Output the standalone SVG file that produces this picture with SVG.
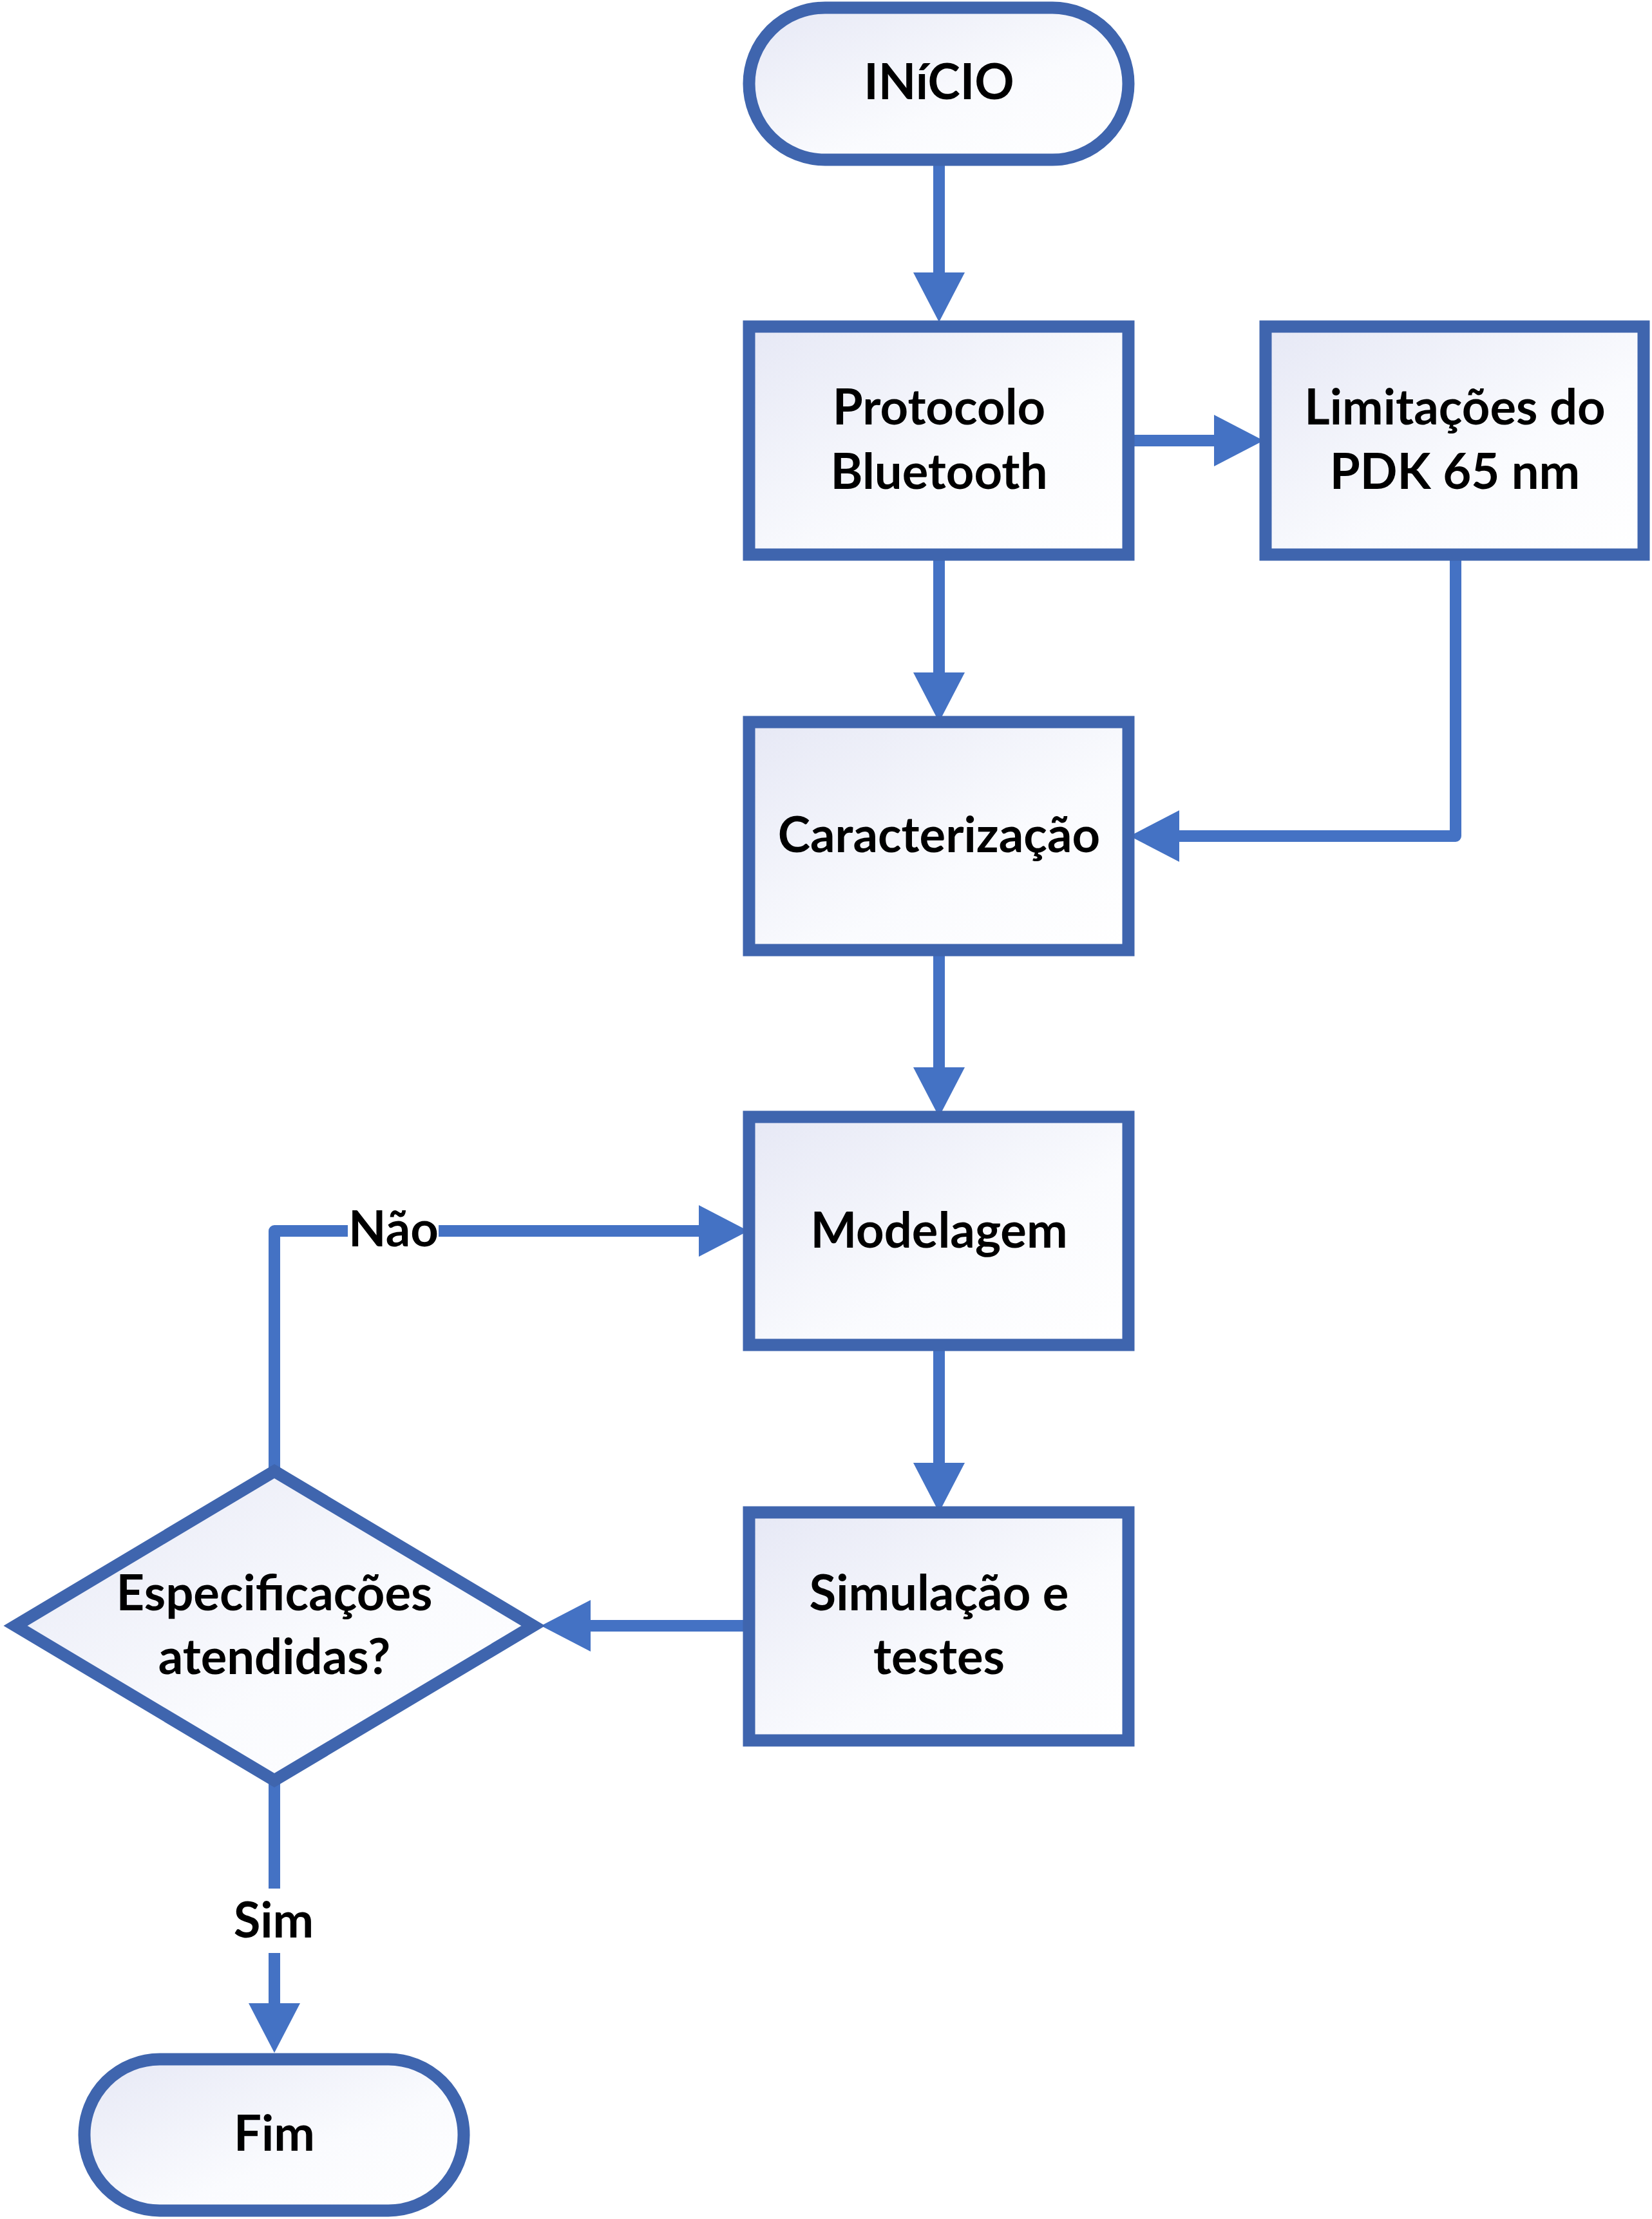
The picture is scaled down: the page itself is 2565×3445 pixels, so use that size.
<svg xmlns="http://www.w3.org/2000/svg" width="2565" height="3445" viewBox="0 0 2565 3445">
<defs>
<linearGradient id="g" x1="0" y1="0" x2="1" y2="1">
<stop offset="0" stop-color="#E6E8F5"/>
<stop offset="0.6" stop-color="#FAFBFE"/>
<stop offset="1" stop-color="#FFFFFF"/>
</linearGradient>
<marker id="ah" markerUnits="userSpaceOnUse" markerWidth="78" markerHeight="80" refX="1" refY="40" orient="auto" viewBox="0 0 78 80">
<path d="M0,0 L77,40 L0,80 Z" fill="#4472C4"/>
</marker>
<style>
.n{fill:url(#g);stroke:#3F65AE;stroke-width:19}
.d{fill:url(#g);stroke:#3F65AE;stroke-width:19;stroke-linejoin:miter;stroke-miterlimit:10}
.c{fill:none;stroke:#4472C4;stroke-width:18;stroke-linecap:round;stroke-linejoin:round;marker-end:url(#ah)}
.t{font-family:Lato,"Open Sans","Liberation Sans",sans-serif;font-weight:700;font-size:76px;fill:#000;text-anchor:middle}
</style>
</defs>
<rect width="2565" height="3445" fill="#FFFFFF"/>
<g id="connectors">
<path class="c" d="M1458,248 V424"/>
<path class="c" d="M1752,684 H1886"/>
<path class="c" d="M1458,861 V1045"/>
<path class="c" d="M2260,861 V1298 H1830"/>
<path class="c" d="M1458,1475 V1658"/>
<path class="c" d="M1458,2088 V2272"/>
<path class="c" d="M1163,2524 H916"/>
<path class="c" d="M426,2284 V1911 H1086"/>
<path class="c" d="M426,2764 V3111"/>
<rect x="540" y="1880" width="141" height="62" fill="#FFFFFF"/>
<text class="t" x="611" y="1935">Não</text>
<rect x="378" y="2932" width="96" height="100" fill="#FFFFFF"/>
<text class="t" x="425" y="3008">Sim</text>
</g>
<g id="inicio">
<rect class="n" x="1163" y="12" width="589" height="236" rx="118" ry="118"/>
<text class="t" x="1458" y="154">INíCIO</text>
</g>
<g id="protocolo">
<rect class="n" x="1163" y="507" width="589" height="354"/>
<text class="t" x="1458" y="659">Protocolo</text>
<text class="t" x="1458" y="759">Bluetooth</text>
</g>
<g id="limitacoes">
<rect class="n" x="1965" y="507" width="587" height="354"/>
<text class="t" x="2259" y="659">Limitações do</text>
<text class="t" x="2259" y="759">PDK 65 nm</text>
</g>
<g id="caracterizacao">
<rect class="n" x="1163" y="1121" width="589" height="354"/>
<text class="t" x="1458" y="1323">Caracterização</text>
</g>
<g id="modelagem">
<rect class="n" x="1163" y="1734" width="589" height="354"/>
<text class="t" x="1458" y="1937">Modelagem</text>
</g>
<g id="simulacao">
<rect class="n" x="1163" y="2348" width="589" height="354"/>
<text class="t" x="1458" y="2500">Simulação e</text>
<text class="t" x="1458" y="2599">testes</text>
</g>
<g id="decisao">
<polygon class="d" points="426,2284 828,2524 426,2764 24,2524"/>
<text class="t" x="426" y="2500">Especificações</text>
<text class="t" x="426" y="2599">atendidas?</text>
</g>
<g id="fim">
<rect class="n" x="131" y="3197" width="589" height="235" rx="117" ry="117"/>
<text class="t" x="426" y="3339">Fim</text>
</g>
</svg>
